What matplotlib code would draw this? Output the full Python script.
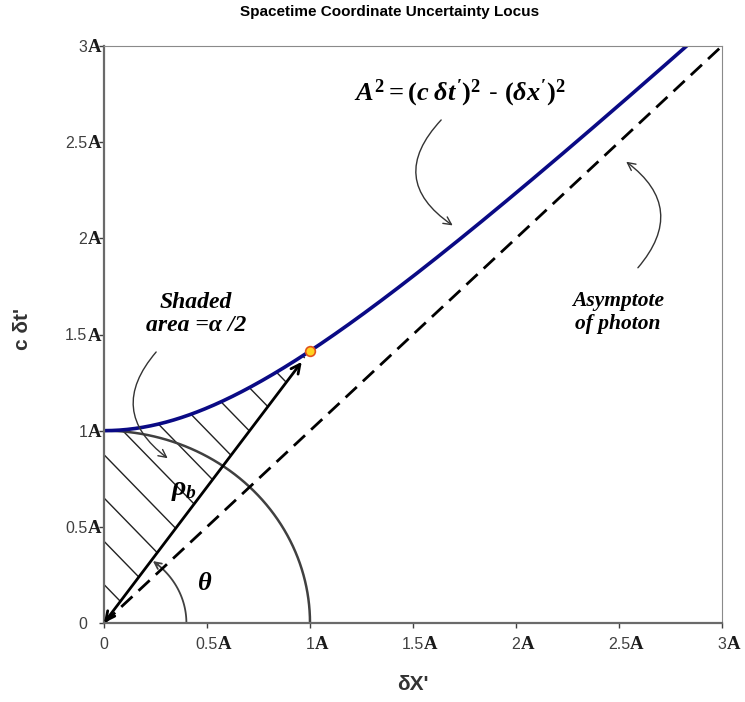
import numpy as np
import matplotlib
matplotlib.use("Agg")
import matplotlib.pyplot as plt
from matplotlib.patches import Polygon

plt.rcParams['font.family'] = ['Liberation Sans', 'DejaVu Sans']
plt.rcParams['mathtext.fontset'] = 'custom'
plt.rcParams['mathtext.rm'] = 'Liberation Serif:bold'
plt.rcParams['mathtext.it'] = 'Liberation Serif:italic:bold'
plt.rcParams['mathtext.bf'] = 'Liberation Serif:bold'

# chart content
a_level = 1.0                 # A, the invariant interval
point_dx = 1.0                # marked point on the locus
theta_radius = 0.4            # radius of the theta arc
x_range = (0.0, 3.0)
tick_values = [0, 0.5, 1, 1.5, 2, 2.5, 3]
tick_labels = ['0', '0.5', '1', '1.5', '2', '2.5', '3']
tick_unit = 'A'

# locus c dt' = sqrt(A^2 + dx'^2)
dx = np.linspace(x_range[0], x_range[1], 400)
ct = np.sqrt(a_level**2 + dx**2)
point_ct = np.sqrt(a_level**2 + point_dx**2)

fig = plt.figure(figsize=(7.45, 7.02), dpi=100)
ax = fig.add_axes([104/745, 1-623/702, 618/745, 577/702])

# hatched hyperbolic sector
sx = np.linspace(0, point_dx, 100)
sector = np.column_stack([np.r_[0, sx], np.r_[0, np.sqrt(a_level**2 + sx**2)]])
clip = Polygon(sector, closed=True, facecolor='none', edgecolor='none')
ax.add_patch(clip)
hx = np.array([-0.5, 2.5])
for c in np.arange(0.2, 2.5, 0.225):
    ln, = ax.plot(hx, -1.1*hx + c, color='#222222', lw=1.0)
    ln.set_clip_path(clip)

# unit circle arc and theta arc
ang = np.linspace(0, np.pi/2, 200)
ax.plot(a_level*np.cos(ang), a_level*np.sin(ang), color='#404040', lw=1.8)
phi = np.arctan2(point_ct, point_dx)
ang2 = np.linspace(0, phi - 0.09, 100)
ax.plot(theta_radius*np.cos(ang2), theta_radius*np.sin(ang2), color='#404040', lw=1.3)
ax.annotate('', xy=(theta_radius*np.cos(phi-0.02), theta_radius*np.sin(phi-0.02)),
            xytext=(theta_radius*np.cos(phi-0.1), theta_radius*np.sin(phi-0.1)),
            arrowprops=dict(arrowstyle='->', color='#404040', lw=1.3,
                            shrinkA=0, shrinkB=0, mutation_scale=12))

# photon asymptote
ax.plot(dx, dx, color='black', lw=2, dashes=(5.5, 3))

# locus
ax.plot(dx, ct, color='#0a0a85', lw=2.6)

# rho_b arrow
ax.annotate('', xy=(0.96*point_dx, 0.96*point_ct), xytext=(0, 0),
            arrowprops=dict(arrowstyle='<->', color='black', lw=2,
                            shrinkA=0, shrinkB=0, mutation_scale=16))
ax.plot([point_dx], [point_ct], 'o', ms=7, mfc='#ffd21f', mec='#e2541b', mew=1.2)

serif = dict(family='Liberation Serif', weight='bold', style='italic')
ax.text(1.73, 2.756, r'$A^2 = (c\;\delta t^{\prime})^2$ - $(\delta x^{\prime})^2$',
        ha='center', va='center', fontsize=19)
ax.text(0.447, 1.607, 'Shaded\narea =α /2', ha='center', va='center',
        fontsize=17, linespacing=1.15, **serif)
ax.text(2.495, 1.615, 'Asymptote\nof photon', ha='center', va='center',
        fontsize=15.5, linespacing=1.2, **serif)
ax.text(0.39, 0.69, r'$\rho_b$', ha='center', va='center', fontsize=20)
ax.text(0.49, 0.21, r'$\theta$', ha='center', va='center', fontsize=19)

arrow_kw = dict(arrowstyle='->', color='#333333', lw=1.0, mutation_scale=14)
ax.annotate('', xy=(1.704, 2.059), xytext=(1.646, 2.626),
            arrowprops=dict(connectionstyle='arc3,rad=0.6', **arrow_kw))
ax.annotate('', xy=(2.524, 2.407), xytext=(2.583, 1.836),
            arrowprops=dict(connectionstyle='arc3,rad=0.55', **arrow_kw))
ax.annotate('', xy=(0.320, 0.848), xytext=(0.262, 1.420),
            arrowprops=dict(connectionstyle='arc3,rad=0.55', **arrow_kw))

ax.set_xlim(*x_range)
ax.set_ylim(*x_range)
ax.set_xticks(tick_values)
ax.set_yticks(tick_values)
ax.set_xticklabels(tick_labels)
ax.set_yticklabels(tick_labels)
ax.tick_params(axis='both', direction='out', length=3.5, width=1,
               colors='#404040', labelsize=11.5)
ax.tick_params(axis='x', pad=6.5)
ax.tick_params(axis='y', pad=8.5)

for side in ['left', 'bottom']:
    ax.spines[side].set_color('#6a6a6a')
    ax.spines[side].set_linewidth(1.6)
for side in ['top', 'right']:
    ax.spines[side].set_color('#8a8a8a')
    ax.spines[side].set_linewidth(0.8)

ax.set_xlabel("δX'", fontsize=15, fontweight='bold', color='#333333')
ax.set_ylabel("c δt'", fontsize=15, fontweight='bold', color='#333333')
ax.xaxis.set_label_coords(0.5, -0.09)
ax.yaxis.set_label_coords(-0.117, 0.51)

fig.text(390/745, 1-12/702, 'Spacetime Coordinate Uncertainty Locus',
         ha='center', va='center', fontsize=11, fontweight='bold')

# append the bold serif unit "A" right after each nonzero tick number,
# sitting on the same baseline as the digits
fig.canvas.draw()
renderer = fig.canvas.get_renderer()
W, H = fig.bbox.width, fig.bbox.height
for lbl in ax.get_xticklabels() + ax.get_yticklabels():
    if lbl.get_text() in ('', '0'):
        continue
    bb = lbl.get_window_extent(renderer)
    _, _, desc = renderer.get_text_width_height_descent(
        'lp', lbl.get_fontproperties(), ismath=False)
    fig.text(bb.x1/W, (bb.y0 + desc)/H, tick_unit, ha='left', va='baseline',
             fontsize=13.5, family='Liberation Serif', fontweight='bold',
             color='#1a1a1a')

fig.savefig('out.png', dpi=100)
